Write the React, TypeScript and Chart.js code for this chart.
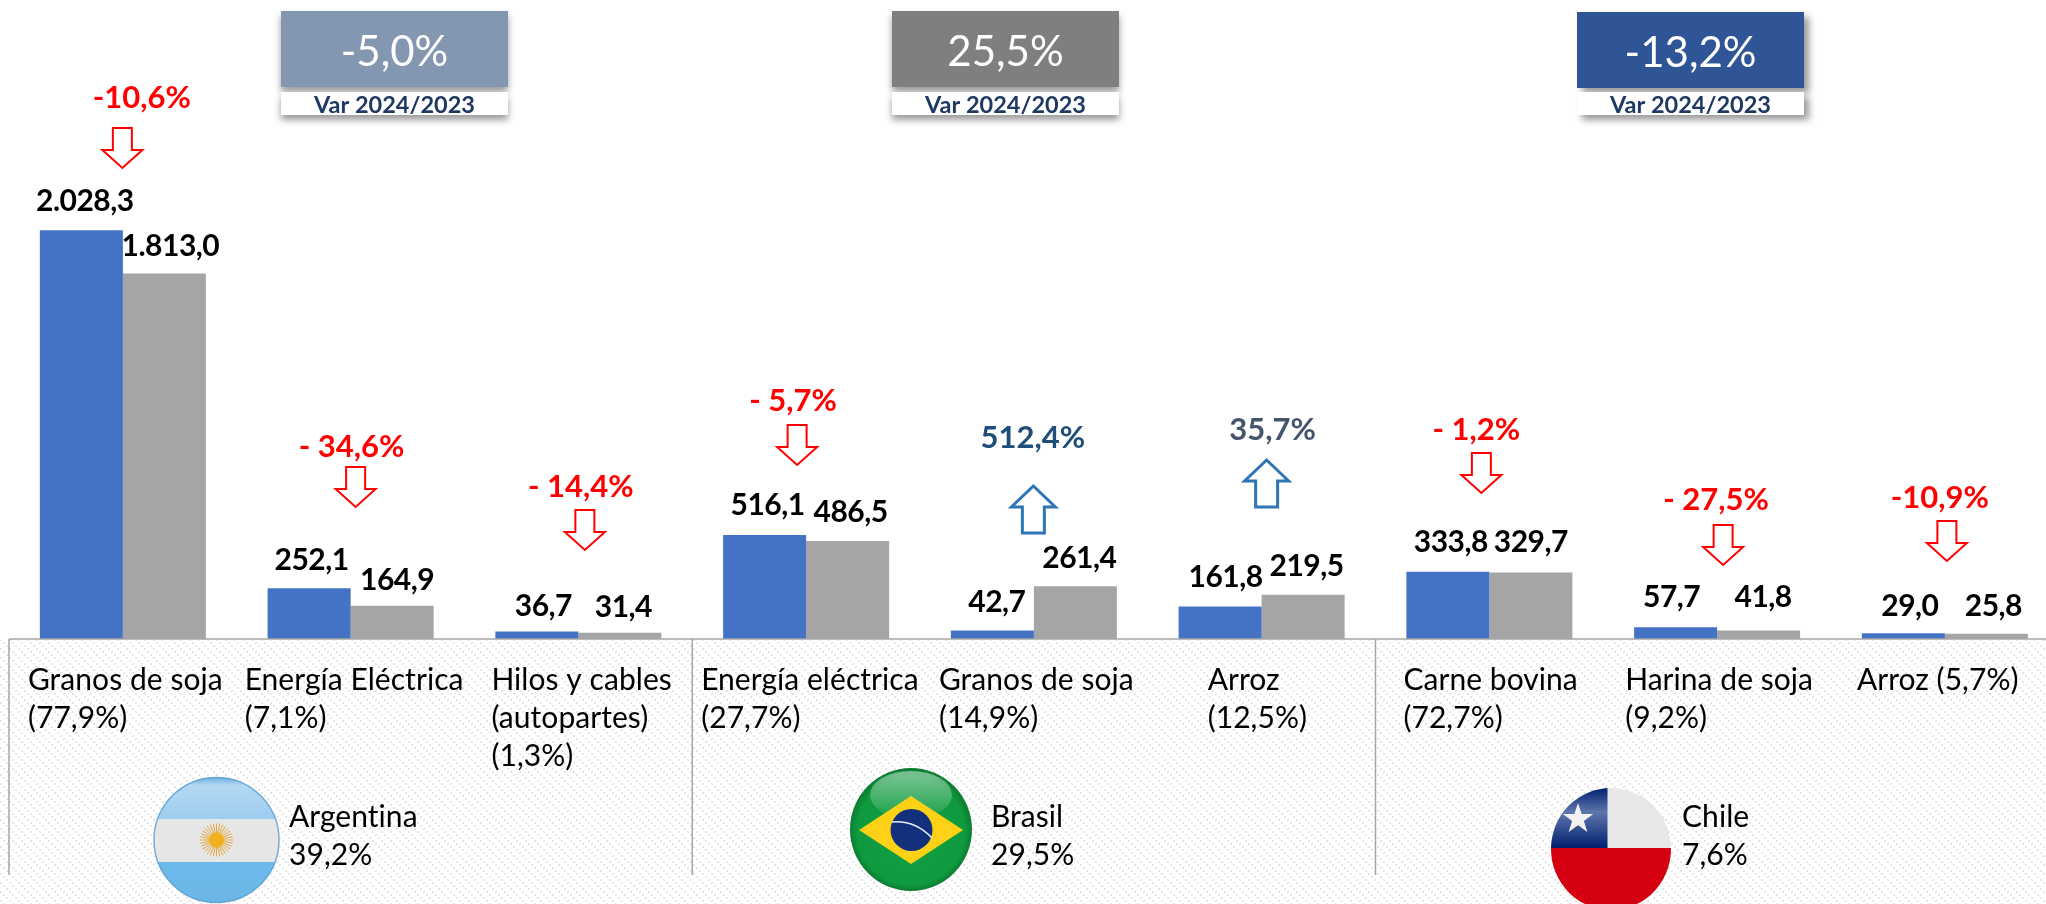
import React, { useEffect, useRef } from "react";
import { Chart, registerables } from "chart.js";

Chart.register(...registerables);

// ---- data ----
const categories = [
  ["Granos de soja", "(77,9%)"],
  ["Energía Eléctrica", "(7,1%)"],
  ["Hilos y cables", "(autopartes)", "(1,3%)"],
  ["Energía eléctrica", "(27,7%)"],
  ["Granos de soja", "(14,9%)"],
  ["Arroz", "(12,5%)"],
  ["Carne bovina", "(72,7%)"],
  ["Harina de soja", "(9,2%)"],
  ["Arroz (5,7%)"],
];
const values2023 = [2028.3, 252.1, 36.7, 516.1, 42.7, 161.8, 333.8, 57.7, 29.0];
const values2024 = [1813.0, 164.9, 31.4, 486.5, 261.4, 219.5, 329.7, 41.8, 25.8];
const changes = ["-10,6%", "- 34,6%", "- 14,4%", "- 5,7%", "512,4%", "35,7%", "- 1,2%", "- 27,5%", "-10,9%"];
const countries = ["Argentina", "Brasil", "Chile"];
const countryShares = ["39,2%", "29,5%", "7,6%"];
const countryChanges = ["-5,0%", "25,5%", "-13,2%"];
const varLabel = "Var 2024/2023";

// ---- layout of the annotations (pixels, separate from the values) ----
const catLabelDx = [-95, -106, -87, -105, -95, -54, -86, -92, -88];
const blueLabelDx = [3.5, 2.5, 6.5, 3, 4.5, 5.5, 3, -4, 6.5];
const grayLabelDx = [6, 5, 3.5, 3, 4, 3.5, 0, 4.5, 7];
const blueLabelDy = [19, 18, 16, 20, 18, 19, 20, 20, 17];
const grayLabelDy = [18, 16, 16, 19, 18, 19, 21, 24, 18];
const changeDx = [19, 1, 2.5, -13, -1, 11, -13, -1, -5];
const changeBase = [108, 457, 497, 411, 448, 440, 440, 510, 508];
const arrowDx = [-.5, 5, 6.5, -9, -.5, 5, -8, 6, 2];
const arrowTop = [128, 467, 510, 425, 486, 460, 453, 525, 521];
const changeColors = ["#ff0000", "#ff0000", "#ff0000", "#ff0000", "#1f4e79", "#44546a", "#ff0000", "#ff0000", "#ff0000"];
const boxX = [281, 892, 1577];
const boxY = [11, 11, 12];
const boxColors = ["#8497b0", "#7f7f7f", "#2f5597"];
const shareX = [289, 991, 1682];

const FONT = "Lato, 'Open Sans', sans-serif";

function arrow(ctx: CanvasRenderingContext2D, cx: number, top: number, up: boolean, color: string, lw: number) {
  const hw = up ? 22 : 20, sw = up ? 11 : 9.5, h = up ? 47 : 40, hh = up ? 21 : 18;
  ctx.save();
  ctx.beginPath();
  if (up) {
    ctx.moveTo(cx, top);
    ctx.lineTo(cx + hw, top + hh);
    ctx.lineTo(cx + sw, top + hh);
    ctx.lineTo(cx + sw, top + h);
    ctx.lineTo(cx - sw, top + h);
    ctx.lineTo(cx - sw, top + hh);
    ctx.lineTo(cx - hw, top + hh);
  } else {
    ctx.moveTo(cx - sw, top);
    ctx.lineTo(cx + sw, top);
    ctx.lineTo(cx + sw, top + h - hh);
    ctx.lineTo(cx + hw, top + h - hh);
    ctx.lineTo(cx, top + h);
    ctx.lineTo(cx - hw, top + h - hh);
    ctx.lineTo(cx - sw, top + h - hh);
  }
  ctx.closePath();
  ctx.fillStyle = "#fff";
  ctx.fill();
  ctx.strokeStyle = color;
  ctx.lineWidth = lw;
  ctx.stroke();
  ctx.restore();
}

function hatch(ctx: CanvasRenderingContext2D) {
  const p = document.createElement("canvas");
  p.width = 9;
  p.height = 9;
  const c = p.getContext("2d")!;
  c.fillStyle = "#ffffff";
  c.fillRect(0, 0, 9, 9);
  c.fillStyle = "#e6e6e6";
  [0, 3, 6].forEach((k) => c.fillRect(k, k, 2, 2));
  return ctx.createPattern(p, "repeat")!;
}

function clipOval(ctx: CanvasRenderingContext2D, x: number, y: number, rx: number, ry: number) {
  ctx.beginPath();
  ctx.ellipse(x, y, rx, ry, 0, 0, Math.PI * 2);
  ctx.clip();
}

function flagArgentina(ctx: CanvasRenderingContext2D) {
  const x = 216.5, y = 840;
  ctx.save();
  clipOval(ctx, x, y, 63, 63);
  const g = ctx.createLinearGradient(0, 777, 0, 820);
  g.addColorStop(0, "#6aaedc");
  g.addColorStop(0.2, "#b4d9f2");
  g.addColorStop(1, "#9ccdf0");
  ctx.fillStyle = g;
  ctx.fillRect(x - 63, 777, 126, 43);
  ctx.fillStyle = "#e6e6e6";
  ctx.fillRect(x - 63, 819, 126, 43);
  const b = ctx.createLinearGradient(0, 862, 0, 903);
  b.addColorStop(0, "#6cbaec");
  b.addColorStop(1, "#6cb6e6");
  ctx.fillStyle = b;
  ctx.fillRect(x - 63, 862, 126, 42);
  ctx.strokeStyle = "#e3a83a";
  ctx.lineWidth = 1;
  for (let i = 0; i < 32; i++) {
    const a = (i / 32) * Math.PI * 2;
    ctx.beginPath();
    ctx.moveTo(x + Math.cos(a) * 7, y + Math.sin(a) * 7);
    ctx.lineTo(x + Math.cos(a) * 16.5, y + Math.sin(a) * 16.5);
    ctx.stroke();
  }
  ctx.fillStyle = "#efb21e";
  ctx.beginPath();
  ctx.arc(x, y, 7.5, 0, Math.PI * 2);
  ctx.fill();
  ctx.restore();
  ctx.save();
  ctx.strokeStyle = "rgba(90,160,210,.8)";
  ctx.lineWidth = 1.5;
  ctx.beginPath();
  ctx.ellipse(x, y, 62.5, 62.5, 0, 0, Math.PI * 2);
  ctx.stroke();
  ctx.restore();
}

function flagBrasil(ctx: CanvasRenderingContext2D) {
  const x = 911, y = 829.5;
  ctx.save();
  clipOval(ctx, x, y, 61, 61.5);
  const bg = ctx.createRadialGradient(x, y + 10, 20, x, y, 62);
  bg.addColorStop(0, "#109c40");
  bg.addColorStop(0.8, "#0f9a3f");
  bg.addColorStop(1, "#0a7a30");
  ctx.fillStyle = bg;
  ctx.fillRect(x - 61, y - 62, 122, 124);
  const g = ctx.createLinearGradient(0, 772, 0, 815);
  g.addColorStop(0, "rgba(255,255,255,.45)");
  g.addColorStop(1, "rgba(255,255,255,.08)");
  ctx.fillStyle = g;
  ctx.beginPath();
  ctx.ellipse(x, 795, 41, 24, 0, 0, Math.PI * 2);
  ctx.fill();
  ctx.fillStyle = "#fcd116";
  ctx.beginPath();
  ctx.moveTo(859, 830);
  ctx.lineTo(911, 796);
  ctx.lineTo(963, 830);
  ctx.lineTo(911, 864);
  ctx.closePath();
  ctx.fill();
  ctx.fillStyle = "#12307c";
  ctx.beginPath();
  ctx.ellipse(911.5, 830, 21, 21, 0, 0, Math.PI * 2);
  ctx.fill();
  ctx.strokeStyle = "#e8eef8";
  ctx.lineWidth = 1.6;
  ctx.beginPath();
  ctx.moveTo(892, 822);
  ctx.quadraticCurveTo(915, 820, 932, 838);
  ctx.stroke();
  ctx.restore();
}

function flagChile(ctx: CanvasRenderingContext2D) {
  const x = 1611, y = 849;
  ctx.save();
  clipOval(ctx, x, y, 60, 61);
  ctx.fillStyle = "#e8e8e8";
  ctx.fillRect(x - 60, y - 62, 120, 62);
  const g = ctx.createLinearGradient(0, 788, 0, 848);
  g.addColorStop(0, "#00206f");
  g.addColorStop(0.4, "#5f76ad");
  g.addColorStop(1, "#00206f");
  ctx.fillStyle = g;
  ctx.fillRect(x - 60, y - 62, 56.5, 61);
  ctx.fillStyle = "#d60013";
  ctx.fillRect(x - 60, 848, 120, 64);
  const sx = 1578, sy = 819, R = 16, r = 6.2;
  ctx.fillStyle = "#f2f2f2";
  ctx.beginPath();
  for (let i = 0; i < 10; i++) {
    const rad = i % 2 ? r : R;
    const a = -Math.PI / 2 + (i * Math.PI) / 5;
    ctx.lineTo(sx + Math.cos(a) * rad, sy + Math.sin(a) * rad);
  }
  ctx.closePath();
  ctx.fill();
  ctx.restore();
}

const decorations = {
  id: "decorations",
  beforeDraw(chart: any) {
    const { ctx, scales: { x } } = chart;
    ctx.save();
    ctx.fillStyle = hatch(ctx);
    ctx.fillRect(0, 640, chart.width, 264);
    ctx.strokeStyle = "#a6a6a6";
    ctx.lineWidth = 1.5;
    [0, 3, 6].forEach((k) => {
      const px = x.getPixelForValue(k - 0.5);
      ctx.beginPath();
      ctx.moveTo(px, 639);
      ctx.lineTo(px, 875);
      ctx.stroke();
    });
    ctx.restore();
  },
  afterDatasetsDraw(chart: any) {
    const { ctx, scales: { x } } = chart;
    const blue = chart.getDatasetMeta(0).data;
    const gray = chart.getDatasetMeta(1).data;
    ctx.save();
    ctx.textBaseline = "alphabetic";

    // value labels
    ctx.font = `700 30px ${FONT}`;
    ctx.letterSpacing = "-0.5px";
    ctx.fillStyle = "#000";
    ctx.textAlign = "center";
    const fmt = (v: number) => {
      const [a, b] = v.toFixed(1).split(".");
      return (a.length > 3 ? a.slice(0, -3) + "." + a.slice(-3) : a) + "," + b;
    };
    values2023.forEach((v, i) => ctx.fillText(fmt(v), blue[i].x + blueLabelDx[i], blue[i].y - blueLabelDy[i]));
    values2024.forEach((v, i) => ctx.fillText(fmt(v), gray[i].x + grayLabelDx[i], gray[i].y - grayLabelDy[i]));

    // variation labels + arrows
    ctx.letterSpacing = "0px";
    changes.forEach((t, i) => {
      const c = x.getPixelForValue(i);
      ctx.font = `700 31px ${FONT}`;
      ctx.fillStyle = changeColors[i];
      ctx.fillText(t, c + changeDx[i], changeBase[i]);
      const up = !t.startsWith("-");
      arrow(ctx, c + arrowDx[i], arrowTop[i], up, up ? "#2e75b6" : "#ff0000", up ? 3 : 2);
    });

    // category labels, left aligned
    ctx.font = `400 30px ${FONT}`;
    ctx.letterSpacing = "0.05px";
    ctx.fillStyle = "#000";
    ctx.textAlign = "left";
    categories.forEach((lines, i) => {
      const px = x.getPixelForValue(i) + catLabelDx[i];
      lines.forEach((l, j) => ctx.fillText(l, px, 690 + j * 38));
    });

    // flags
    flagArgentina(ctx);
    flagBrasil(ctx);
    flagChile(ctx);

    // country labels
    ctx.font = `400 30px ${FONT}`;
    ctx.fillStyle = "#000";
    countries.forEach((t, i) => {
      ctx.fillText(t, shareX[i], 827);
      ctx.fillText(countryShares[i], shareX[i], 865);
    });
    ctx.letterSpacing = "0px";

    // summary boxes
    countryChanges.forEach((t, i) => {
      const bx = boxX[i], by = boxY[i];
      const w = 227;
      ctx.save();
      ctx.shadowColor = "rgba(0,0,0,.4)";
      ctx.shadowBlur = 7;
      ctx.shadowOffsetX = i === 2 ? 5 : 0;
      ctx.shadowOffsetY = 5;
      ctx.fillStyle = boxColors[i];
      ctx.fillRect(bx, by, w, 76);
      ctx.fillStyle = "#fff";
      ctx.fillRect(bx, 92, w, 23);
      ctx.restore();
      ctx.textAlign = "center";
      ctx.fillStyle = "#fff";
      ctx.font = `400 42px ${FONT}`;
      ctx.fillText(t, bx + w / 2, by + 55);
      ctx.fillStyle = "#1f3864";
      ctx.font = `700 23.5px ${FONT}`;
      ctx.fillText(varLabel, bx + w / 2, 113);
    });
    ctx.restore();
  },
};

export default function App() {
  const ref = useRef<HTMLCanvasElement>(null);
  useEffect(() => {
    const chart = new Chart(ref.current!, {
      type: "bar",
      data: {
        labels: categories as any,
        datasets: [
          { label: "2023", data: values2023, backgroundColor: "#4472c4", categoryPercentage: 0.729, barPercentage: 1 },
          { label: "2024", data: values2024, backgroundColor: "#a5a5a5", categoryPercentage: 0.729, barPercentage: 1 },
        ],
      },
      options: {
        responsive: false,
        animation: false,
        layout: { padding: { left: 9, right: 1.25, top: 0, bottom: 265 } },
        plugins: { legend: { display: false }, tooltip: { enabled: false }, title: { display: false } },
        scales: {
          x: {
            grid: { display: false, drawTicks: false },
            border: { display: false },
            ticks: { display: false },
          },
          y: { display: false, min: 0, max: 3170 },
        },
      },
      plugins: [
        decorations,
        {
          id: "baseline",
          afterDatasetsDraw(c: any) {
            const { ctx, chartArea } = c;
            ctx.save();
            ctx.strokeStyle = "#a6a6a6";
            ctx.lineWidth = 1.5;
            ctx.beginPath();
            ctx.moveTo(chartArea.left, chartArea.bottom);
            ctx.lineTo(c.width, chartArea.bottom);
            ctx.stroke();
            ctx.restore();
          },
        },
      ],
    });
    return () => chart.destroy();
  }, []);
  return (
    <div style={{ position: "fixed", left: 0, top: 0, width: 2046, height: 904, overflow: "hidden", background: "#fff" }}>
      <canvas ref={ref} width={2060} height={904} style={{ display: "block" }} />
    </div>
  );
}
